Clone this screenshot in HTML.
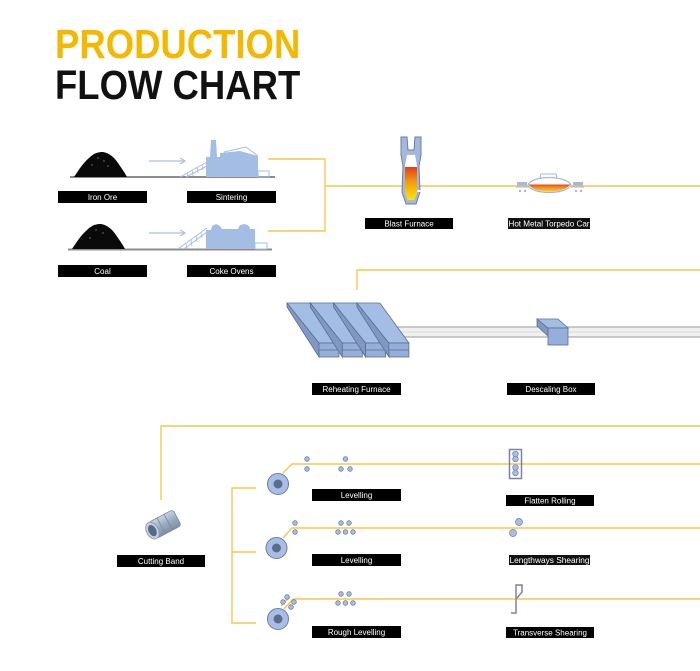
<!DOCTYPE html>
<html><head><meta charset="utf-8">
<style>
html,body{margin:0;padding:0;background:#fff;}
body{width:700px;height:671px;overflow:hidden;position:relative;font-family:"Liberation Sans",Arial,sans-serif;}
.t{position:absolute;left:55px;font-weight:bold;font-size:41px;line-height:41px;transform-origin:0 0;transform:scaleX(0.89);white-space:nowrap;letter-spacing:0px;}
svg{position:absolute;left:0;top:0;}
</style></head><body>
<div class="t" style="top:24px;color:#F4B800;">PRODUCTION</div>
<div class="t" style="top:65px;color:#111;">FLOW CHART</div>
<svg width="700" height="671" viewBox="0 0 700 671" xmlns="http://www.w3.org/2000/svg">
<defs>
<linearGradient id="molten" x1="0" y1="0" x2="0" y2="1">
<stop offset="0" stop-color="#E2401A"/><stop offset="0.45" stop-color="#F39A10"/><stop offset="1" stop-color="#F7E800"/>
</linearGradient>
<linearGradient id="tor" x1="0" y1="0" x2="0" y2="1">
<stop offset="0" stop-color="#E0451A"/><stop offset="0.35" stop-color="#F08A1A"/><stop offset="1" stop-color="#F6D040"/>
</linearGradient>
<linearGradient id="coil" x1="0" y1="0" x2="0" y2="1">
<stop offset="0" stop-color="#C9D3DF"/><stop offset="0.5" stop-color="#9AAABF"/><stop offset="1" stop-color="#7E8EA6"/>
</linearGradient>
</defs>

<!-- yellow connectors -->
<g fill="none" stroke="#F2C94C" stroke-width="1.4">
<polyline points="268,159 325,159 325,231 268,231"/>
<line x1="325" y1="186" x2="700" y2="186"/>
<polyline points="357,290 357,270 700,270"/>
<polyline points="161,500 161,426 700,426"/>
<polyline points="256,488 232,488 232,623 256,623"/>
<line x1="232" y1="552" x2="256" y2="552"/>
<polyline points="283,473 292,464 700,464"/>
<polyline points="283,538 292,528 700,528"/>
<polyline points="284,609 293,599 700,599"/>
<line x1="281" y1="606" x2="290" y2="597"/>
</g>

<!-- ground lines -->
<line x1="70" y1="177" x2="275" y2="177" stroke="#8C8C8C" stroke-width="2"/>
<line x1="68" y1="249.5" x2="272" y2="249.5" stroke="#8C8C8C" stroke-width="2"/>

<!-- piles -->
<path d="M74,177 C78,171 83,163 89,158 C94,153 98,152 103,152 C109,153 114,157 118,163 C122,169 125,173 127,177 Z" fill="#0a0a0a"/>
<path d="M72,249 C76,243 81,235 87,230 C92,225 96,224 101,224 C107,225 112,229 116,235 C120,241 123,245 125,249 Z" fill="#0a0a0a"/>
<g fill="#fff"><circle cx="98" cy="158" r="0.5"/><circle cx="104" cy="161" r="0.5"/><circle cx="92" cy="165" r="0.5"/><circle cx="108" cy="166" r="0.5"/><circle cx="96" cy="230" r="0.5"/><circle cx="103" cy="233" r="0.5"/><circle cx="90" cy="238" r="0.5"/></g>

<!-- arrows -->
<g stroke="#A9C1E3" stroke-width="1.2" fill="none">
<line x1="149" y1="161" x2="184" y2="161"/><polyline points="180,158 185,161 180,164"/>
<line x1="149" y1="233" x2="184" y2="233"/><polyline points="180,230 185,233 180,236"/>
</g>

<!-- sintering -->
<g fill="#A4BDE4" stroke="#A4BDE4">
<path d="M180,177 L207,162 M186,177 L207,166" stroke-width="1" fill="none"/>
<path d="M187,173 L188,177 M192,170 L193,176 M197,167 L198,173 M202,165 L203,170" stroke-width="0.8" fill="none"/>
<path d="M210,157 L211,140 L216,140 L217,157 Z" stroke="none"/>
<path d="M206,177 L206,157 L220,157 L220,153 L240,151 L258,156 L258,177 Z" stroke="none"/>
<path d="M224,152 L246,147 L258,156" stroke-width="1" fill="none"/>
<rect x="258" y="171" width="11" height="6" fill="none" stroke-width="1"/>
</g>
<!-- coke ovens -->
<g fill="#A4BDE4" stroke="#A4BDE4">
<path d="M178,249 L207,228 M184,249 L207,232" stroke-width="1" fill="none"/>
<path d="M186,244 L187,248 M191,240 L192,246 M196,236 L197,242 M201,233 L202,238" stroke-width="0.8" fill="none"/>
<path d="M206,249 L206,230 L211,230 L212,226 L216,224 L220,226 L222,229 L238,229 L240,225 L245,224 L249,226 L250,229 L255,229 L255,249 Z" stroke="none"/>
<rect x="255" y="243" width="12" height="6" fill="none" stroke-width="1"/>
</g>

<!-- blast furnace -->
<path d="M401,137 L407,137 L408,150 L414,150 L415,137 L421,137 L421,155 L419,166 L420,192 L416,204 L406,204 L402,192 L403,166 L401,155 Z" fill="#A4B8DE" stroke="#6A7DA5" stroke-width="1"/>
<path d="M407,155 L415,155 L417,166 L417,192 L414,200 L408,200 L405,192 L405,166 Z" fill="#fff"/>
<path d="M405,167 L417,167 L417,192 L414,200 L408,200 L405,192 Z" fill="url(#molten)"/>
<line x1="407" y1="154" x2="415" y2="154" stroke="#bbb" stroke-width="0.8"/>
<rect x="417" y="190" width="5" height="2" fill="#fff"/>

<!-- torpedo car -->
<g>
<rect x="517" y="182" width="10" height="3.5" fill="#A4B8DE"/>
<rect x="573" y="182" width="10" height="3.5" fill="#A4B8DE"/>
<line x1="516" y1="187" x2="529" y2="187" stroke="#A4B8DE" stroke-width="1"/>
<line x1="571" y1="187" x2="584" y2="187" stroke="#A4B8DE" stroke-width="1"/>
<circle cx="520" cy="191" r="1.2" fill="#A4B8DE"/><circle cx="525" cy="191" r="1.2" fill="#A4B8DE"/>
<circle cx="576" cy="191" r="1.2" fill="#A4B8DE"/><circle cx="581" cy="191" r="1.2" fill="#A4B8DE"/>
<path d="M540,178 L541,174 L556,174 L557,178" fill="#fff" stroke="#A4B8DE" stroke-width="1"/>
<path d="M528,185 C532,175 566,175 571,185 C566,195 532,195 528,185 Z" fill="#fff" stroke="#A4B8DE" stroke-width="1.2"/>
<path d="M529,184.5 L570,184.5 C565,194 533,194 529,184.5 Z" fill="url(#tor)"/>
</g>

<!-- rail -->
<rect x="380" y="327" width="321" height="10" fill="#F0F0F0" stroke="#9A9A9A" stroke-width="1"/>
<line x1="380" y1="332" x2="700" y2="332" stroke="#DDD" stroke-width="1"/>

<!-- reheating furnace blocks -->
<g stroke="#5E6F8F" stroke-width="0.8">
<g id="blk">
<path d="M287,303 L287,307 L319,357 L319,343 Z" fill="#7F98C4"/>
<path d="M287,303 L310,303 L339,343 L319,343 Z" fill="#A4BDE4"/>
<rect x="319" y="343" width="20" height="14" fill="#95AEDA"/>
<line x1="319" y1="350" x2="339" y2="350"/>
</g>
<use href="#blk" x="23.3"/>
<use href="#blk" x="46.6"/>
<use href="#blk" x="69.9"/>
</g>

<!-- descaling box -->
<g stroke="#5E6F8F" stroke-width="0.8">
<path d="M537,319 L537,326 L548,336 L548,328 Z" fill="#7F98C4"/>
<path d="M537,319 L558,319 L568,328 L548,328 Z" fill="#A4BDE4"/>
<rect x="548" y="328" width="20" height="17" fill="#95AEDA"/>
</g>

<!-- cutting band coil -->
<g transform="rotate(-28 163 525)">
<rect x="151" y="516" width="28" height="18" rx="3" fill="url(#coil)" stroke="#7A8AA2" stroke-width="0.8"/>
<line x1="161" y1="516" x2="161" y2="534" stroke="#7A8AA2" stroke-width="0.8"/>
<line x1="169" y1="516" x2="169" y2="534" stroke="#7A8AA2" stroke-width="0.8"/>
<ellipse cx="151" cy="525" rx="6" ry="9" fill="#C4CEDB" stroke="#8A9AB2" stroke-width="0.8"/>
<ellipse cx="151" cy="525" rx="3.8" ry="6" fill="#56698A"/>
</g>

<!-- rollers -->
<g fill="#A8BEE6" stroke="#6A7DA5" stroke-width="1">
<circle cx="278" cy="484" r="10.5"/>
<circle cx="276.5" cy="548" r="10.5"/>
<circle cx="278" cy="619" r="10.5"/>
</g>
<g fill="#5C6D8C">
<circle cx="278" cy="484" r="4.5"/>
<circle cx="276.5" cy="548" r="4.5"/>
<circle cx="278" cy="619" r="4.5"/>
</g>
<g fill="#A8BEE6" stroke="#6A7DA5" stroke-width="0.8">
<circle cx="307" cy="459" r="2.3"/><circle cx="307" cy="469" r="2.3"/>
<circle cx="345.5" cy="459" r="2.3"/><circle cx="341" cy="469" r="2.3"/><circle cx="350" cy="469" r="2.3"/>
<circle cx="295" cy="523" r="2.3"/><circle cx="295" cy="532" r="2.3"/>
<circle cx="341" cy="523" r="2.3"/><circle cx="349" cy="523" r="2.3"/>
<circle cx="338" cy="532" r="2.3"/><circle cx="345.5" cy="532" r="2.3"/><circle cx="353" cy="532" r="2.3"/>
<circle cx="287" cy="597" r="2.3"/><circle cx="283" cy="602" r="2.3"/><circle cx="294" cy="602" r="2.3"/><circle cx="291" cy="607" r="2.3"/>
<circle cx="341" cy="594" r="2.3"/><circle cx="349" cy="594" r="2.3"/>
<circle cx="338" cy="603" r="2.3"/><circle cx="345.5" cy="603" r="2.3"/><circle cx="353" cy="603" r="2.3"/>
</g>

<!-- flatten rolling -->
<rect x="509.5" y="449.5" width="12" height="29" fill="none" stroke="#7A8598" stroke-width="1.5"/>
<g fill="#A8BEE6" stroke="#6A7DA5" stroke-width="0.7">
<circle cx="515.5" cy="454" r="2.8"/><circle cx="515.5" cy="459" r="2.8"/>
<circle cx="515.5" cy="467.5" r="2.8"/><circle cx="515.5" cy="473" r="2.8"/>
</g>
<!-- lengthways -->
<g fill="#A8BEE6" stroke="#6A7DA5" stroke-width="0.7">
<circle cx="519" cy="522" r="3.5"/><circle cx="513" cy="533" r="3.5"/>
</g>
<!-- transverse -->
<path d="M511,613 L516,613 L516,585 L522,585 L522,592 L517,598" fill="none" stroke="#7A8598" stroke-width="1.5"/>

<!-- labels -->
<g fill="#000">
<rect x="58" y="191" width="89" height="12"/>
<rect x="187" y="191" width="89" height="12"/>
<rect x="58" y="265" width="89" height="12"/>
<rect x="187" y="265" width="89" height="12"/>
<rect x="365" y="218" width="88" height="11"/>
<rect x="508" y="218" width="82" height="11" fill="#111"/>
<rect x="312" y="383" width="89" height="12"/>
<rect x="507" y="383" width="88" height="12"/>
<rect x="117" y="555" width="88" height="12"/>
<rect x="312" y="489" width="89" height="12"/>
<rect x="506" y="495" width="88" height="11"/>
<rect x="312" y="554" width="89" height="12"/>
<rect x="509" y="555" width="81" height="10" fill="#111"/>
<rect x="312" y="626" width="89" height="12"/>
<rect x="506" y="627" width="88" height="11"/>
</g>
<g fill="#fff" font-family="Liberation Sans, Arial, sans-serif" font-size="8" text-anchor="middle">
<text x="102.5" y="200">Iron Ore</text>
<text x="231.5" y="200">Sintering</text>
<text x="102.5" y="274">Coal</text>
<text x="231.5" y="274">Coke Ovens</text>
<text x="409" y="226.5">Blast Furnace</text>
<text x="549" y="226.5" textLength="81" lengthAdjust="spacingAndGlyphs">Hot Metal Torpedo Car</text>
<text x="356.5" y="392">Reheating Furnace</text>
<text x="551" y="392">Descaling Box</text>
<text x="161" y="564">Cutting Band</text>
<text x="356.5" y="498">Levelling</text>
<text x="550" y="503.5">Flatten Rolling</text>
<text x="356.5" y="563">Levelling</text>
<text x="549.5" y="563" textLength="80" lengthAdjust="spacingAndGlyphs">Lengthways Shearing</text>
<text x="356.5" y="635">Rough Levelling</text>
<text x="550" y="635.5">Transverse Shearing</text>
</g>
</svg>
</body></html>
